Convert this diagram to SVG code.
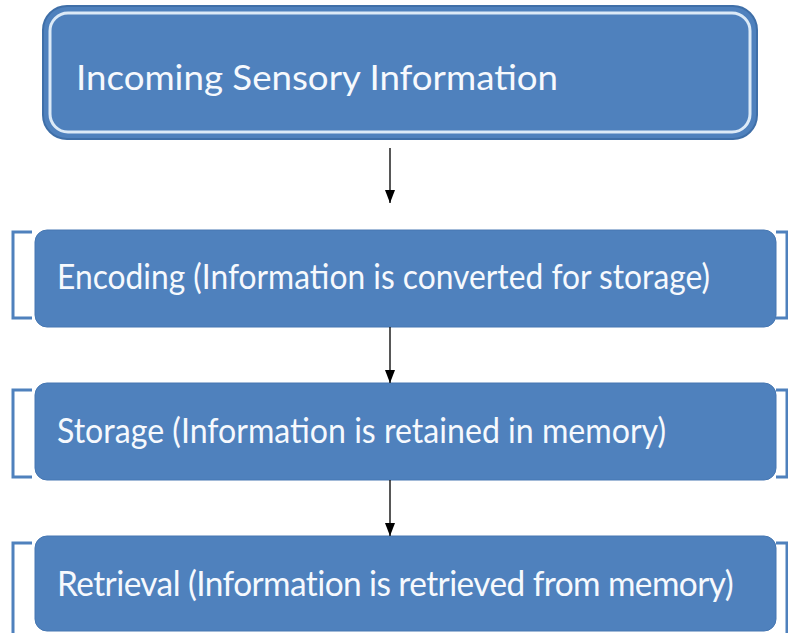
<svg xmlns="http://www.w3.org/2000/svg" width="788" height="633" viewBox="0 0 788 633">
<defs>
<marker id="ah" markerUnits="userSpaceOnUse" markerWidth="13" markerHeight="10" refX="13" refY="5" orient="auto" viewBox="0 0 13 10">
<path d="M0,0 L13,5 L0,10 Z" fill="#000"/>
</marker>
<style>
.box{fill:#4F81BD;stroke:#4677B2;stroke-width:1}
.brk{fill:none;stroke:#4F81BD;stroke-width:3}
.lbl{font-family:Lato,"Open Sans","Liberation Sans",sans-serif;fill:#F6F9FD;font-size:35px}
.con{stroke:#111;stroke-width:1.4;fill:none}
</style>
</defs>
<rect width="788" height="633" fill="#FFFFFF"/>
<g id="node-incoming">
<rect x="43" y="6" width="714" height="133" rx="24" fill="#4F81BD" stroke="#3F6FA8" stroke-width="2"/>
<rect x="50" y="13" width="700" height="119" rx="18" fill="none" stroke="#DCEAF7" stroke-width="3"/>
<text class="lbl" x="76" y="90" font-size="39" textLength="482" lengthAdjust="spacingAndGlyphs">Incoming Sensory Information</text>
</g>
<g id="node-encoding">
<path class="brk" d="M32,232 H13 V318 H32"/>
<path class="brk" d="M776,232 H787 V318 H776"/>
<rect class="box" x="35" y="230" width="741" height="97" rx="12"/>
<text class="lbl" x="57" y="289" textLength="653" lengthAdjust="spacingAndGlyphs">Encoding (Information is converted for storage)</text>
</g>
<g id="node-storage">
<path class="brk" d="M32,390 H13 V477 H32"/>
<path class="brk" d="M776,390 H787 V477 H776"/>
<rect class="box" x="35" y="383" width="741" height="97" rx="12"/>
<text class="lbl" x="57" y="443" textLength="609" lengthAdjust="spacingAndGlyphs">Storage (Information is retained in memory)</text>
</g>
<g id="node-retrieval">
<path class="brk" d="M32,543 H13 V633"/>
<path class="brk" d="M776,543 H787 V633"/>
<rect class="box" x="35" y="536" width="741" height="95" rx="12"/>
<text class="lbl" x="57" y="596" font-size="33" letter-spacing="-0.6" textLength="676" lengthAdjust="spacingAndGlyphs">Retrieval (Information is retrieved from memory)</text>
</g>
<g id="connectors">
<line class="con" x1="390" y1="148" x2="390" y2="203" marker-end="url(#ah)"/>
<line class="con" x1="390" y1="327" x2="390" y2="383" marker-end="url(#ah)"/>
<line class="con" x1="390" y1="480" x2="390" y2="536" marker-end="url(#ah)"/>
</g>
</svg>
